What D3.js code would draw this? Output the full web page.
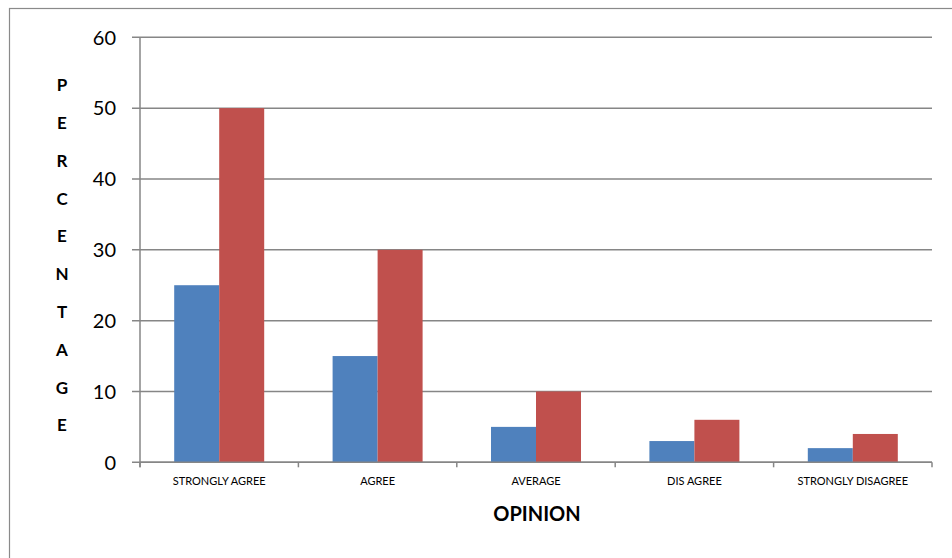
<!DOCTYPE html>
<html><head><meta charset="utf-8">
<script src="https://cdn.jsdelivr.net/npm/d3@7"></script>
<style>html,body{margin:0;padding:0;background:#fff;}svg{display:block;}</style>
</head><body>
<svg id="c" width="952" height="558"></svg>
<script>
const categories = ["STRONGLY AGREE","AGREE","AVERAGE","DIS AGREE","STRONGLY DISAGREE"];
const series1 = [25,15,5,3,2];
const series2 = [50,30,10,6,4];
const yTicks = [0,10,20,30,40,50,60];
const yTitle = "PERCENTAGE";
const xTitle = "OPINION";

const svg = d3.select("#c");
const font = "Lato, 'Open Sans', sans-serif";
const L = 140, R = 932, T = 37.3, B = 462.3;

svg.append("rect").attr("x",9.5).attr("y",8.5).attr("width",960).attr("height",560)
  .attr("fill","none").attr("stroke","#8a8a8a").attr("stroke-width",1.2);

const x = d3.scaleBand().domain(categories).range([L,R]);
const y = d3.scaleLinear().domain([0,60]).range([B,T]);

const g = svg.append("g");
g.selectAll("line.grid").data(yTicks).join("line")
  .attr("x1",132).attr("x2",R).attr("y1",d=>y(d)).attr("y2",d=>y(d))
  .attr("stroke","#868686").attr("stroke-width",1.5);
g.selectAll("text.yt").data(yTicks).join("text")
  .attr("x",116).attr("y",d=>y(d)).attr("dy","0.36em").attr("text-anchor","end")
  .attr("font-family",font).attr("font-size",20).attr("fill","#000").text(d=>d);

const bw = 45;
const colors = ["#4F81BD","#C0504D"];
const inner = d3.scaleBand().domain([0,1]).range([-bw, bw]);
categories.forEach((c,i)=>{
  [series1[i],series2[i]].forEach((v,j)=>{
    svg.append("rect")
      .attr("x", x(c)+x.bandwidth()/2 + inner(j))
      .attr("y", y(v)).attr("width", inner.bandwidth()).attr("height", y(0)-y(v))
      .attr("fill", colors[j]);
  });
});

svg.append("line").attr("x1",L).attr("x2",L).attr("y1",T).attr("y2",B+5).attr("stroke","#868686").attr("stroke-width",1.5);
svg.append("line").attr("x1",L).attr("x2",R).attr("y1",B).attr("y2",B).attr("stroke","#868686").attr("stroke-width",1.5);
const bounds = categories.map(c=>x(c)).concat([R]);
svg.selectAll("line.xt").data(bounds).join("line")
  .attr("x1",d=>d).attr("x2",d=>d).attr("y1",B).attr("y2",B+5).attr("stroke","#868686").attr("stroke-width",1.5);

svg.selectAll("text.xl").data(categories).join("text")
  .attr("x",d=>x(d)+x.bandwidth()/2).attr("y",481).attr("dy","0.36em").attr("text-anchor","middle")
  .attr("font-family",font).attr("font-size",11).attr("fill","#000").text(d=>d);

svg.append("text").attr("x",537).attr("y",514).attr("dy","0.36em").attr("text-anchor","middle")
  .attr("font-family",font).attr("font-weight","bold").attr("font-size",20).text(xTitle);

svg.selectAll("text.yl").data(yTitle.split("")).join("text")
  .attr("x",62).attr("y",(d,i)=>85+i*37.8).attr("dy","0.36em").attr("text-anchor","middle")
  .attr("font-family",font).attr("font-weight","bold").attr("font-size",17).text(d=>d);
</script>
</body></html>
